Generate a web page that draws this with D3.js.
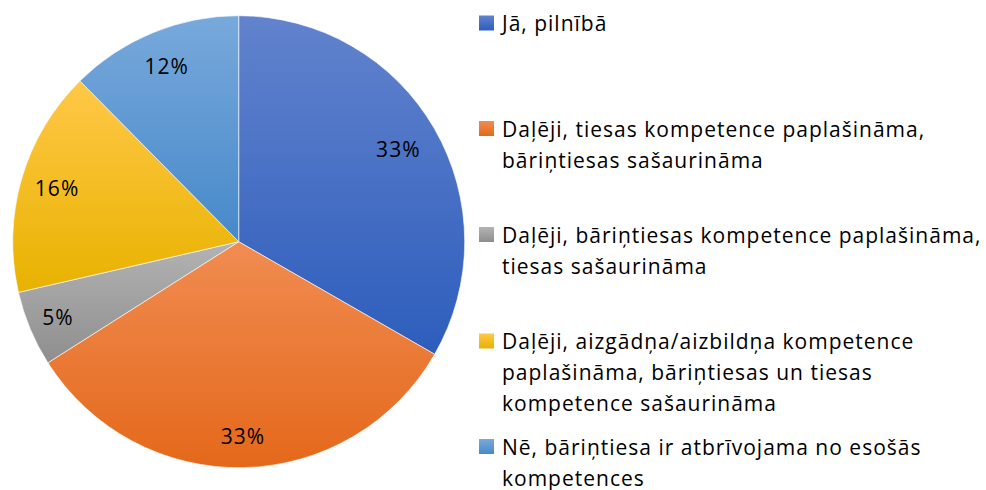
<!DOCTYPE html>
<html><head><meta charset="utf-8">
<script src="https://cdn.jsdelivr.net/npm/d3@7"></script>
<style>body{margin:0;background:#fff;} svg{display:block;}</style>
</head><body>
<svg id="chart" width="986" height="490"></svg>
<script>
const categories = [
  "Jā, pilnībā",
  "Daļēji, tiesas kompetence paplašināma,\nbāriņtiesas sašaurināma",
  "Daļēji, bāriņtiesas kompetence paplašināma,\ntiesas sašaurināma",
  "Daļēji, aizgādņa/aizbildņa kompetence\npaplašināma, bāriņtiesas un tiesas\nkompetence sašaurināma",
  "Nē, bāriņtiesa ir atbrīvojama no esošās\nkompetences"
];
const values = [33.3, 32.7, 5.4, 16.2, 12.4];
const labels = ["33%", "33%", "5%", "16%", "12%"];

const colorsTop = ["#6283cd", "#f18c52", "#b3b3b3", "#ffc847", "#78a9dc"];
const colorsBottom = ["#2d5dbc", "#e4681a", "#8e8e8e", "#e8b200", "#4689c9"];
const labelRadiusFactor = [0.816, 0.863, 0.867, 0.837, 0.84];
const legendBaseline = [31, 136.5, 242.5, 349, 454.5];

const svg = d3.select("#chart");
const cx = 238.7, cy = 241.7, R = 226;
const font = "'Open Sans', 'Noto Sans', sans-serif";
const fs = 21;
const ls = 1.0;

const defs = svg.append("defs");
values.forEach((v, i) => {
  const g = defs.append("linearGradient").attr("id", "g" + i)
    .attr("x1", 0).attr("y1", 0).attr("x2", 0).attr("y2", 1);
  g.append("stop").attr("offset", "0%").attr("stop-color", colorsTop[i]);
  g.append("stop").attr("offset", "100%").attr("stop-color", colorsBottom[i]);
});

const pie = d3.pie().sort(null).value(d => d);
const arcs = pie(values);
const arc = d3.arc().innerRadius(0).outerRadius(R);

const gp = svg.append("g").attr("transform", `translate(${cx},${cy})`);
gp.selectAll("path").data(arcs).enter().append("path")
  .attr("d", arc)
  .attr("fill", (d, i) => `url(#g${i})`)
  .attr("stroke", "#ffffff").attr("stroke-width", 0.6);

gp.selectAll("text.lbl").data(arcs).enter().append("text")
  .attr("class", "lbl")
  .attr("transform", (d, i) => {
    const r = R * labelRadiusFactor[i];
    const c = d3.arc().innerRadius(r).outerRadius(r).centroid(d);
    return `translate(${c[0]},${c[1]})`;
  })
  .attr("text-anchor", "middle").attr("dy", "0.357em")
  .style("font-family", font).style("font-size", fs + "px")
  .style("letter-spacing", ls + "px").attr("fill", "#000")
  .text((d, i) => labels[i]);

const lg = svg.append("g");
categories.forEach((c, i) => {
  const b = legendBaseline[i];
  lg.append("rect").attr("x", 479).attr("y", b - 15.5).attr("width", 15).attr("height", 15)
    .attr("fill", `url(#g${i})`);
  const t = lg.append("text").style("font-family", font).style("font-size", fs + "px")
    .style("letter-spacing", ls + "px").attr("fill", "#000");
  c.split("\n").forEach((line, j) => {
    t.append("tspan").attr("x", 502).attr("y", b + j * 31).text(line);
  });
});
</script>
</body></html>
